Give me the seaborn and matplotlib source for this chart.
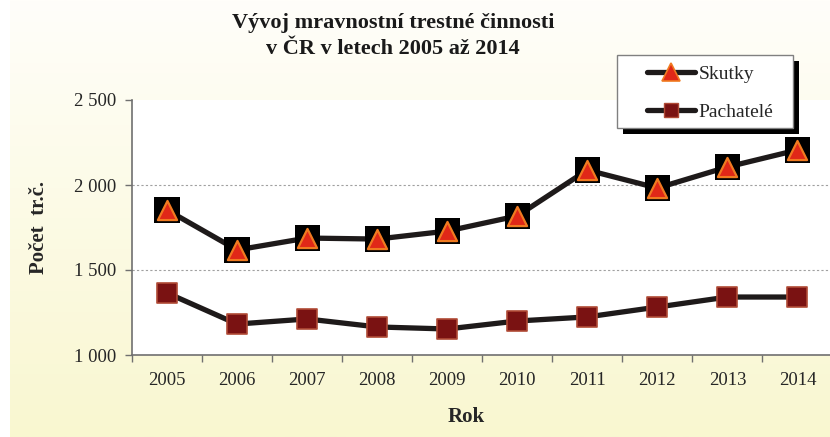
import numpy as np
import pandas as pd
import matplotlib
matplotlib.use("Agg")
import matplotlib.pyplot as plt
import seaborn as sns
from matplotlib.lines import Line2D
from matplotlib.patches import Rectangle

years = [2005, 2006, 2007, 2008, 2009, 2010, 2011, 2012, 2013, 2014]
skutky = [1853, 1618, 1688, 1682, 1729, 1818, 2088, 1982, 2106, 2206]
pachatele = [1365, 1182, 1212, 1165, 1153, 1200, 1224, 1282, 1341, 1341]
yticks = [1000, 1500, 2000, 2500]
ytick_labels = ["1 000", "1 500", "2 000", "2 500"]

sns.set_theme(style="white")
plt.rcParams['font.family'] = ['Liberation Serif', 'DejaVu Serif']

W, H = 830, 437
fig = plt.figure(figsize=(W / 100, H / 100), dpi=100)
fig.patch.set_facecolor("white")

# gradient background
bg = fig.add_axes([10 / W, 0, 1 - 10 / W, 1], zorder=-10)
top = np.array([255, 254, 250]) / 255
bot = np.array([249, 247, 208]) / 255
t = np.linspace(0, 1, 256)[:, None]
grad = top[None, :] * (1 - t) + bot[None, :] * t
bg.imshow(grad[:, None, :], aspect="auto", extent=[0, 1, 0, 1])
bg.axis("off")

ax = fig.add_axes([132 / W, 1 - 355 / H, (W - 132) / W + 0.003, (355 - 100) / H])
ax.set_facecolor("white")

df = pd.DataFrame({"x": np.arange(len(years)), "Skutky": skutky, "Pachatelé": pachatele})

line_kw = dict(color="#1e1a1a", linewidth=3.8, zorder=2)
sns.lineplot(data=df, x="x", y="Skutky", ax=ax, **line_kw)
sns.lineplot(data=df, x="x", y="Pachatelé", ax=ax, **line_kw)

# markers
sns.scatterplot(data=df, x="x", y="Skutky", ax=ax, marker="s", s=330, color="black",
                edgecolor="none", linewidth=0, zorder=3)
sns.scatterplot(data=df, x="x", y="Skutky", ax=ax, marker="^", s=190, color="#e02818",
                edgecolor="#f07a20", linewidth=1.6, zorder=4)
sns.scatterplot(data=df, x="x", y="Pachatelé", ax=ax, marker="s", s=200, color="#7a1212",
                edgecolor="#b04a35", linewidth=1.2, zorder=4)

ax.set_xlim(-0.5, len(years) - 0.5)
ax.set_ylim(1000, 2500)
ax.set_yticks(yticks)
ax.set_yticklabels(ytick_labels, fontsize=13.5)
ax.set_xticks(np.arange(len(years)))
ax.set_xticklabels([str(y) for y in years], fontsize=13.5)
ax.set_xticks(np.arange(len(years) + 1) - 0.5, minor=True)
ax.tick_params(axis="x", which="major", length=0, pad=12)
ax.tick_params(axis="x", which="minor", length=5, width=1, color="#707070", direction="out", bottom=True)
ax.tick_params(axis="y", which="major", length=5, width=1, color="#707070", direction="out", left=True, pad=6)

for s in ["top", "right"]:
    ax.spines[s].set_visible(False)
for s in ["left", "bottom"]:
    ax.spines[s].set_color("#707070")
    ax.spines[s].set_linewidth(1.2)

for yv in [1500, 2000]:
    ax.axhline(yv, color="#a0a0a0", linestyle=(0, (2, 2)), linewidth=0.8, zorder=1)

ax.set_xlabel("Rok", fontsize=15, fontweight="bold")
ax.set_ylabel("Počet  tr.č.", fontsize=15, fontweight="bold", labelpad=18)
ax.xaxis.set_label_coords((465 - 132) / (W - 132), -(407 - 355) / (355 - 100))

fig.text(393 / W, 1 - 36 / H, "Vývoj mravnostní trestné činnosti\nv ČR v letech 2005 až 2014",
         ha="center", va="center", fontsize=16, fontweight="bold", linespacing=1.42, color="#1a1a1a")

# legend box with shadow
lx0, lx1, ly0, ly1 = 617, 793, 55, 128
fig.patches.append(Rectangle(((lx0 + 6) / W, 1 - (ly1 + 6) / H), (lx1 - lx0) / W, (ly1 - ly0) / H,
                             transform=fig.transFigure, facecolor="black", edgecolor="none", zorder=5))
fig.patches.append(Rectangle((lx0 / W, 1 - ly1 / H), (lx1 - lx0) / W, (ly1 - ly0) / H,
                             transform=fig.transFigure, facecolor="white", edgecolor="#808080",
                             linewidth=1, zorder=6))

h1 = Line2D([0], [0], color="#1e1a1a", linewidth=3.8, marker="^", markersize=13,
            markerfacecolor="#e02818", markeredgecolor="#f07a20", markeredgewidth=1.2)
h2 = Line2D([0], [0], color="#1e1a1a", linewidth=3.8, marker="s", markersize=10,
            markerfacecolor="#7a1212", markeredgecolor="#b04a35", markeredgewidth=1)
leg = fig.legend([h1, h2], ["Skutky", "Pachatelé"], loc="center left",
                 bbox_to_anchor=(637 / W, 1 - 93 / H), frameon=False, fontsize=14,
                 handlelength=2.5, handletextpad=0.15, labelspacing=1.05, borderpad=0)
leg.set_zorder(7)

fig.savefig("out.png", dpi=100)
